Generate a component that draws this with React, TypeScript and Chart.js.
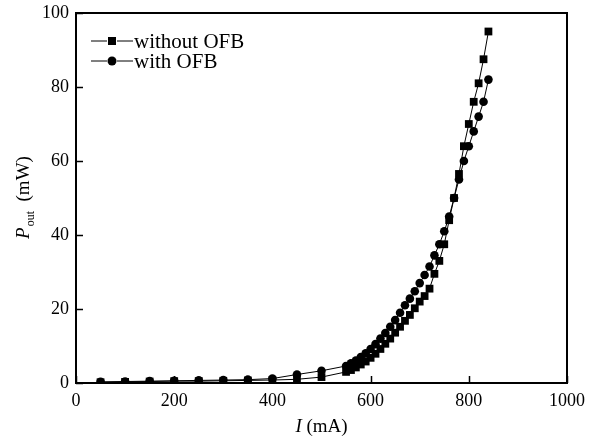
import React, { useEffect, useRef } from "react";
import { Chart, registerables } from "chart.js";

Chart.register(...registerables);

const currentLow = [50, 100, 150, 200, 250, 300, 350, 400, 450, 500];
const currentHigh = [550, 560, 570, 580, 590, 600, 610, 620, 630, 640, 650, 660, 670, 680, 690, 700, 710, 720, 730, 740, 750, 760, 770, 780, 790, 800, 810, 820, 830, 840];
const withoutOFBLow = [0.2, 0.3, 0.4, 0.5, 0.5, 0.6, 0.7, 0.8, 1.0, 1.6];
const withoutOFBHigh = [3.0, 3.5, 4.2, 5.0, 5.8, 6.8, 7.9, 9.2, 10.6, 12.0, 13.6, 15.2, 16.8, 18.4, 20.2, 22.0, 23.5, 25.5, 29.5, 33.0, 37.5, 44.0, 50.0, 56.5, 64.0, 70.0, 76.0, 81.0, 87.5, 95.0];
const withOFBLow = [0.3, 0.4, 0.5, 0.6, 0.7, 0.8, 0.9, 1.2, 2.3, 3.3];
const withOFBHigh = [4.6, 5.3, 6.1, 7.0, 8.0, 9.2, 10.5, 12.0, 13.5, 15.2, 17.0, 19.0, 21.0, 22.8, 24.8, 27.0, 29.2, 31.5, 34.5, 37.5, 41.0, 45.0, 50.0, 55.0, 60.0, 64.0, 68.0, 72.0, 76.0, 82.0];
const xTicks = [0, 200, 400, 600, 800, 1000];
const yTicks = [0, 20, 40, 60, 80, 100];
const seriesNames = ["without OFB", "with OFB"];

const currents = [...currentLow, ...currentHigh];
const withoutOFB = [...withoutOFBLow, ...withoutOFBHigh];
const withOFB = [...withOFBLow, ...withOFBHigh];

const SERIF = "'Liberation Serif', 'Times New Roman', serif";

const decorPlugin = {
  id: "decor",
  afterDraw(chart: any) {
    const { ctx, chartArea: a, scales } = chart;
    const xs = scales.x, ys = scales.y;
    ctx.save();
    ctx.strokeStyle = "#000";
    // frame
    ctx.lineWidth = 2;
    ctx.strokeRect(a.left, a.top, a.right - a.left, a.bottom - a.top);
    // inward ticks (bottom and left only)
    ctx.lineWidth = 1.5;
    ctx.beginPath();
    xTicks.forEach((v) => {
      const px = Math.round(xs.getPixelForValue(v)) + 0.5;
      ctx.moveTo(px, a.bottom);
      ctx.lineTo(px, a.bottom - 7);
    });
    yTicks.forEach((v) => {
      const py = Math.round(ys.getPixelForValue(v)) + 0.5;
      ctx.moveTo(a.left, py);
      ctx.lineTo(a.left + 7, py);
    });
    ctx.stroke();

    // legend
    ctx.fillStyle = "#000";
    ctx.lineWidth = 1;
    ctx.font = `21px ${SERIF}`;
    ctx.textBaseline = "middle";
    const lx = 91;
    const rows = [41, 61];
    rows.forEach((ry, i) => {
      ctx.beginPath();
      ctx.moveTo(lx, ry);
      ctx.lineTo(lx + 16, ry);
      ctx.moveTo(lx + 26, ry);
      ctx.lineTo(lx + 42, ry);
      ctx.stroke();
      if (i === 0) {
        ctx.fillRect(lx + 17, ry - 4, 8, 8);
      } else {
        ctx.beginPath();
        ctx.arc(lx + 21, ry, 4.5, 0, Math.PI * 2);
        ctx.fill();
      }
      ctx.textAlign = "left";
      ctx.fillText(seriesNames[i], lx + 43, ry + 1);
    });

    // x title: I (mA)
    ctx.textBaseline = "alphabetic";
    ctx.font = `italic 19px ${SERIF}`;
    const ital = "I";
    const rest = " (mA)";
    const w1 = ctx.measureText(ital).width;
    ctx.font = `19px ${SERIF}`;
    const w2 = ctx.measureText(rest).width;
    const cx = (a.left + a.right) / 2;
    const sx = cx - (w1 + w2) / 2;
    ctx.font = `italic 19px ${SERIF}`;
    ctx.fillText(ital, sx, 432);
    ctx.font = `19px ${SERIF}`;
    ctx.fillText(rest, sx + w1, 432);

    // y title: P_out (mW)
    ctx.translate(29, (a.top + a.bottom) / 2);
    ctx.rotate(-Math.PI / 2);
    ctx.font = `italic 19px ${SERIF}`;
    const pW = ctx.measureText("P").width;
    ctx.font = `12px ${SERIF}`;
    const subW = ctx.measureText("out").width;
    ctx.font = `19px ${SERIF}`;
    const unitW = ctx.measureText("  (mW)").width;
    const ty = -(pW + subW + unitW) / 2;
    ctx.font = `italic 19px ${SERIF}`;
    ctx.fillText("P", ty, 0);
    ctx.font = `12px ${SERIF}`;
    ctx.fillText("out", ty + pW + 1, 5);
    ctx.font = `19px ${SERIF}`;
    ctx.fillText("  (mW)", ty + pW + subW + 1, 0);
    ctx.restore();
  },
};

export default function App() {
  const ref = useRef<HTMLCanvasElement | null>(null);
  useEffect(() => {
    document.body.style.margin = "0";
    const c = ref.current;
    if (!c) return;
    const chart = new Chart(c, {
      type: "line",
      data: {
        datasets: [
          {
            label: seriesNames[0],
            data: currents.map((x, i) => ({ x, y: withoutOFB[i] })),
            borderColor: "#000",
            backgroundColor: "#000",
            borderWidth: 1,
            pointStyle: "rect",
            pointRadius: 5.5,
            pointBorderWidth: 0,
            tension: 0,
          },
          {
            label: seriesNames[1],
            data: currents.map((x, i) => ({ x, y: withOFB[i] })),
            borderColor: "#000",
            backgroundColor: "#000",
            borderWidth: 1,
            pointStyle: "circle",
            pointRadius: 4.3,
            pointBorderWidth: 0,
            tension: 0,
          },
        ],
      },
      options: {
        animation: false,
        responsive: false,
        maintainAspectRatio: false,
        layout: { padding: { top: 13, right: 22, left: 0, bottom: 0 } },
        plugins: { legend: { display: false }, tooltip: { enabled: false } },
        scales: {
          x: {
            type: "linear",
            min: 0,
            max: 1000,
            afterBuildTicks: (s: any) => {
              s.ticks = xTicks.map((v) => ({ value: v }));
            },
            afterFit: (s: any) => {
              s.height = 60;
              s.paddingLeft = 0;
              s.paddingRight = 0;
            },
            grid: { display: false, drawTicks: false },
            border: { display: false },
            ticks: {
              color: "#000",
              font: { family: SERIF, size: 18 },
              padding: 7,
              maxRotation: 0,
              callback: (v: any) => String(v),
            },
          },
          y: {
            type: "linear",
            min: 0,
            max: 100,
            afterBuildTicks: (s: any) => {
              s.ticks = yTicks.map((v) => ({ value: v }));
            },
            afterFit: (s: any) => {
              s.width = 76;
              s.paddingTop = 0;
              s.paddingBottom = 0;
            },
            grid: { display: false, drawTicks: false },
            border: { display: false },
            ticks: {
              color: "#000",
              font: { family: SERIF, size: 18 },
              padding: 7,
              callback: (v: any) => String(v),
            },
          },
        },
      },
      plugins: [decorPlugin],
    });
    return () => chart.destroy();
  }, []);
  return (
    <div style={{ width: 589, height: 443 }}>
      <canvas ref={ref} width={589} height={443} style={{ display: "block" }} />
    </div>
  );
}
